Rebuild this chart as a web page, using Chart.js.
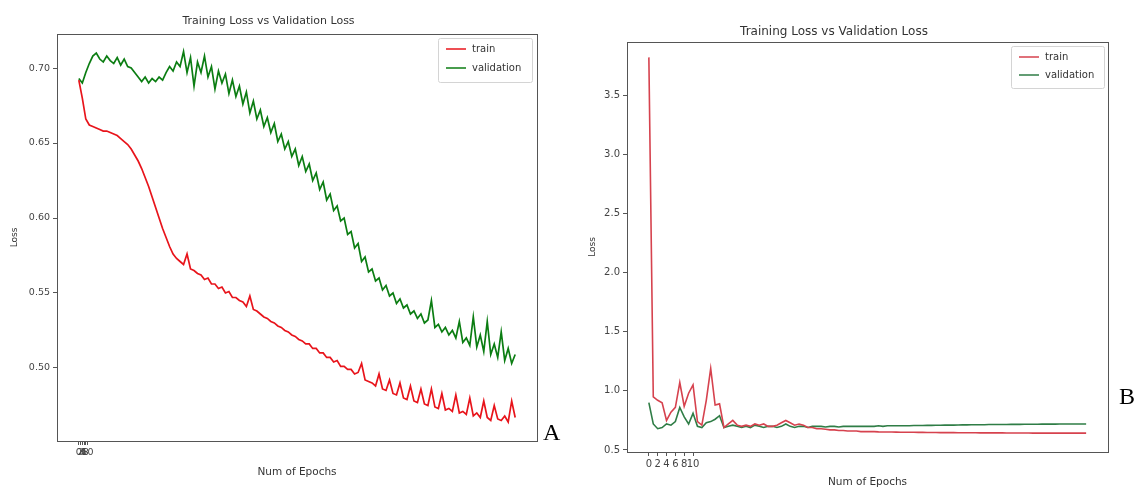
<!DOCTYPE html>
<html>
<head>
<meta charset="utf-8">
<script src="https://cdn.jsdelivr.net/npm/chart.js@4.4.0/dist/chart.umd.min.js"></script>
<style>
  body { margin: 0; background: #fff; width: 1137px; height: 489px; position: relative; overflow: hidden; }
  canvas { position: absolute; top: 0; }
  #chartA { left: 0; }
  #chartB { left: 560px; }
  .panel { position: absolute; font-family: 'Liberation Serif', serif; font-size: 24px; line-height: 1; color: #000; }
</style>
</head>
<body>
<canvas id="chartA" width="560" height="489"></canvas>
<canvas id="chartB" width="577" height="489"></canvas>
<div class="panel" style="left:543px;top:420px">A</div>
<div class="panel" style="left:1119px;top:384px">B</div>
<script>
// panel A: one value every 4 epochs, 0..500
const epochStepA = 4;
const trainLossA = [
  0.692,0.680,0.666,0.662,0.661,0.660,0.659,0.658,0.658,0.657,
  0.656,0.655,0.653,0.651,0.649,0.646,0.642,0.638,0.633,0.627,
  0.621,0.614,0.607,0.600,0.593,0.587,0.581,0.576,0.573,0.571,
  0.569,0.576,0.566,0.565,0.563,0.562,0.559,0.560,0.556,0.556,
  0.553,0.554,0.550,0.551,0.547,0.547,0.545,0.544,0.541,0.548,
  0.539,0.538,0.536,0.534,0.533,0.531,0.530,0.528,0.527,0.525,
  0.524,0.522,0.521,0.519,0.518,0.516,0.516,0.513,0.513,0.510,
  0.510,0.507,0.507,0.504,0.505,0.501,0.501,0.499,0.499,0.496,
  0.497,0.503,0.492,0.491,0.490,0.488,0.496,0.486,0.485,0.492,
  0.483,0.482,0.490,0.480,0.479,0.488,0.478,0.477,0.486,0.476,
  0.475,0.486,0.474,0.473,0.483,0.472,0.473,0.471,0.482,0.470,
  0.471,0.469,0.480,0.468,0.470,0.467,0.478,0.467,0.465,0.475,
  0.466,0.465,0.468,0.464,0.478,0.467
];
const valLossA = [
  0.693,0.690,0.697,0.703,0.708,0.710,0.706,0.704,0.708,0.705,
  0.703,0.707,0.702,0.706,0.701,0.700,0.697,0.694,0.691,0.694,
  0.690,0.693,0.691,0.694,0.692,0.697,0.701,0.698,0.704,0.701,
  0.711,0.697,0.707,0.688,0.704,0.697,0.708,0.694,0.701,0.686,
  0.698,0.690,0.696,0.683,0.692,0.681,0.688,0.676,0.684,0.670,
  0.678,0.666,0.672,0.661,0.667,0.657,0.663,0.651,0.656,0.646,
  0.651,0.641,0.646,0.635,0.641,0.631,0.636,0.625,0.630,0.619,
  0.624,0.612,0.616,0.605,0.608,0.598,0.600,0.589,0.591,0.580,
  0.583,0.571,0.574,0.564,0.566,0.558,0.560,0.552,0.555,0.548,
  0.550,0.543,0.546,0.540,0.542,0.536,0.538,0.533,0.536,0.530,
  0.532,0.545,0.527,0.529,0.524,0.527,0.522,0.525,0.520,0.531,
  0.517,0.520,0.515,0.534,0.514,0.522,0.511,0.531,0.509,0.516,
  0.507,0.524,0.505,0.513,0.503,0.509
];

// panel B: one value per epoch, 0..99
const trainLossB = [
  3.82,0.95,0.92,0.90,0.75,0.82,0.86,1.07,0.87,0.98,
  1.05,0.74,0.71,0.92,1.19,0.88,0.89,0.69,0.72,0.75,
  0.71,0.70,0.71,0.70,0.72,0.71,0.72,0.70,0.70,0.71,
  0.73,0.75,0.73,0.71,0.72,0.71,0.69,0.69,0.68,0.68,
  0.675,0.67,0.67,0.665,0.665,0.66,0.66,0.66,0.655,0.655,
  0.655,0.655,0.653,0.652,0.652,0.652,0.651,0.65,0.65,0.65,
  0.65,0.649,0.649,0.648,0.648,0.648,0.647,0.647,0.647,0.647,
  0.646,0.646,0.646,0.646,0.646,0.645,0.645,0.645,0.645,0.645,
  0.645,0.644,0.644,0.644,0.644,0.644,0.644,0.643,0.643,0.643,
  0.643,0.643,0.643,0.643,0.643,0.643,0.643,0.643,0.643,0.643
];
const valLossB = [
  0.90,0.72,0.68,0.69,0.72,0.71,0.74,0.86,0.78,0.72,
  0.81,0.70,0.69,0.73,0.74,0.76,0.79,0.69,0.70,0.71,
  0.70,0.69,0.70,0.69,0.71,0.70,0.69,0.70,0.70,0.69,
  0.70,0.72,0.70,0.69,0.70,0.70,0.69,0.70,0.70,0.70,
  0.695,0.70,0.70,0.695,0.70,0.70,0.70,0.70,0.70,0.70,
  0.70,0.70,0.705,0.70,0.705,0.705,0.705,0.705,0.705,0.705,
  0.707,0.707,0.707,0.708,0.708,0.709,0.709,0.710,0.710,0.710,
  0.711,0.712,0.712,0.713,0.713,0.714,0.714,0.715,0.715,0.716,
  0.716,0.716,0.717,0.717,0.717,0.718,0.718,0.718,0.718,0.719,
  0.719,0.719,0.719,0.72,0.72,0.72,0.72,0.72,0.72,0.72
];

const epochTicks = [0, 2, 4, 6, 8, 10];
const yTicksA = [0.50, 0.55, 0.60, 0.65, 0.70];
const yTicksB = [0.5, 1.0, 1.5, 2.0, 2.5, 3.0, 3.5];

function toPoints(values, step) {
  return values.map((v, i) => ({ x: i * step, y: v }));
}

// matplotlib-like box around the axes
const frame = {
  id: 'frame',
  afterDraw(chart) {
    const a = chart.chartArea, ctx = chart.ctx;
    ctx.save();
    ctx.strokeStyle = '#555';
    ctx.lineWidth = 1;
    ctx.strokeRect(Math.round(a.left) + 0.5, Math.round(a.top) + 0.5,
      Math.round(a.right - a.left), Math.round(a.bottom - a.top));
    ctx.restore();
  }
};

// legend drawn inside the axes, upper right
const boxLegend = {
  id: 'boxLegend',
  afterDraw(chart, args, o) {
    const ctx = chart.ctx;
    ctx.save();
    ctx.fillStyle = 'rgba(255,255,255,0.85)';
    ctx.strokeStyle = '#d4d4d4';
    ctx.lineWidth = 1;
    ctx.beginPath();
    ctx.roundRect(o.left + 0.5, o.top + 0.5, o.width, o.height, 2);
    ctx.fill();
    ctx.stroke();
    ctx.font = o.font;
    ctx.textBaseline = 'middle';
    chart.data.datasets.forEach((ds, i) => {
      const y = o.rows[i];
      ctx.strokeStyle = ds.borderColor;
      ctx.lineWidth = 1.5;
      ctx.beginPath();
      ctx.moveTo(o.left + 8, y);
      ctx.lineTo(o.left + 28, y);
      ctx.stroke();
      ctx.fillStyle = '#333';
      ctx.fillText(ds.label, o.left + 34, y);
    });
    ctx.restore();
  }
};

function lossChart(id, cfg) {
  const tickFont = { family: 'DejaVu Sans', size: cfg.tickSize };
  return new Chart(document.getElementById(id), {
    type: 'line',
    data: {
      datasets: [
        { label: 'train', data: cfg.train, borderColor: cfg.red, borderWidth: cfg.lineWidth },
        { label: 'validation', data: cfg.val, borderColor: cfg.green, borderWidth: cfg.lineWidth }
      ]
    },
    options: {
      responsive: false,
      animation: false,
      elements: { point: { radius: 0 }, line: { tension: 0 } },
      layout: { padding: { left: 0, right: cfg.padRight, top: cfg.padTop, bottom: 0 } },
      plugins: {
        legend: { display: false },
        tooltip: { enabled: false },
        title: {
          display: true,
          text: 'Training Loss vs Validation Loss',
          color: '#333',
          font: { family: 'DejaVu Sans', size: cfg.titleSize, weight: 'normal', lineHeight: 1.2 },
          padding: { top: 0, bottom: cfg.titleGap }
        },
        boxLegend: cfg.legend
      },
      scales: {
        x: {
          type: 'linear',
          min: cfg.xMin,
          max: cfg.xMax,
          afterBuildTicks: s => { s.ticks = epochTicks.map(v => ({ value: v })); },
          afterFit: s => { s.height = cfg.xAxisHeight; },
          ticks: { autoSkip: false, maxRotation: 0, padding: 2, color: '#444', font: tickFont },
          grid: { drawOnChartArea: false, tickLength: 4, color: '#555' },
          border: { display: false },
          title: {
            display: true, text: 'Num of Epochs', color: '#333',
            font: { family: 'DejaVu Sans', size: 10.5, lineHeight: 1.2 },
            padding: { top: 0, bottom: cfg.xTitleGap }
          }
        },
        y: {
          min: cfg.yMin,
          max: cfg.yMax,
          afterBuildTicks: s => { s.ticks = cfg.yTicks.map(v => ({ value: v })); },
          afterFit: s => { s.width = cfg.yAxisWidth; },
          ticks: { padding: 3, color: '#444', font: tickFont, callback: v => v.toFixed(cfg.decimals) },
          grid: { drawOnChartArea: false, tickLength: 4, color: '#555' },
          border: { display: false },
          title: {
            display: true, text: 'Loss', color: '#333',
            font: { family: 'DejaVu Sans', size: 9, lineHeight: 1.2 },
            padding: { top: cfg.yTitleGap, bottom: 0 }
          }
        }
      }
    },
    plugins: [frame, boxLegend]
  });
}

lossChart('chartA', {
  train: toPoints(trainLossA, epochStepA),
  val: toPoints(valLossA, epochStepA),
  red: '#e8141b', green: '#0b7d12', lineWidth: 1.7,
  padRight: 23, padTop: 14.2, titleSize: 11, titleGap: 6.6,
  xMin: -25, xMax: 525, xAxisHeight: 48, xTitleGap: 10.7,
  yMin: 0.4513, yMax: 0.7227, yTicks: yTicksA, decimals: 2, yAxisWidth: 57, yTitleGap: 9.6,
  tickSize: 9.5,
  legend: { left: 438, top: 38, width: 94, height: 44, rows: [49, 68], font: '10px "DejaVu Sans"' }
});

lossChart('chartB', {
  train: toPoints(trainLossB, 1),
  val: toPoints(valLossB, 1),
  red: '#d6424e', green: '#2f7d46', lineWidth: 1.6,
  padRight: 29, padTop: 24.8, titleSize: 12, titleGap: 2.8,
  xMin: -4.95, xMax: 103.95, xAxisHeight: 37, xTitleGap: 0.7,
  yMin: 0.483, yMax: 3.95, yTicks: yTicksB, decimals: 1, yAxisWidth: 67, yTitleGap: 27.6,
  tickSize: 10,
  legend: { left: 451, top: 46, width: 93, height: 42, rows: [57, 75], font: '10px "DejaVu Sans"' }
});
</script>
</body>
</html>
